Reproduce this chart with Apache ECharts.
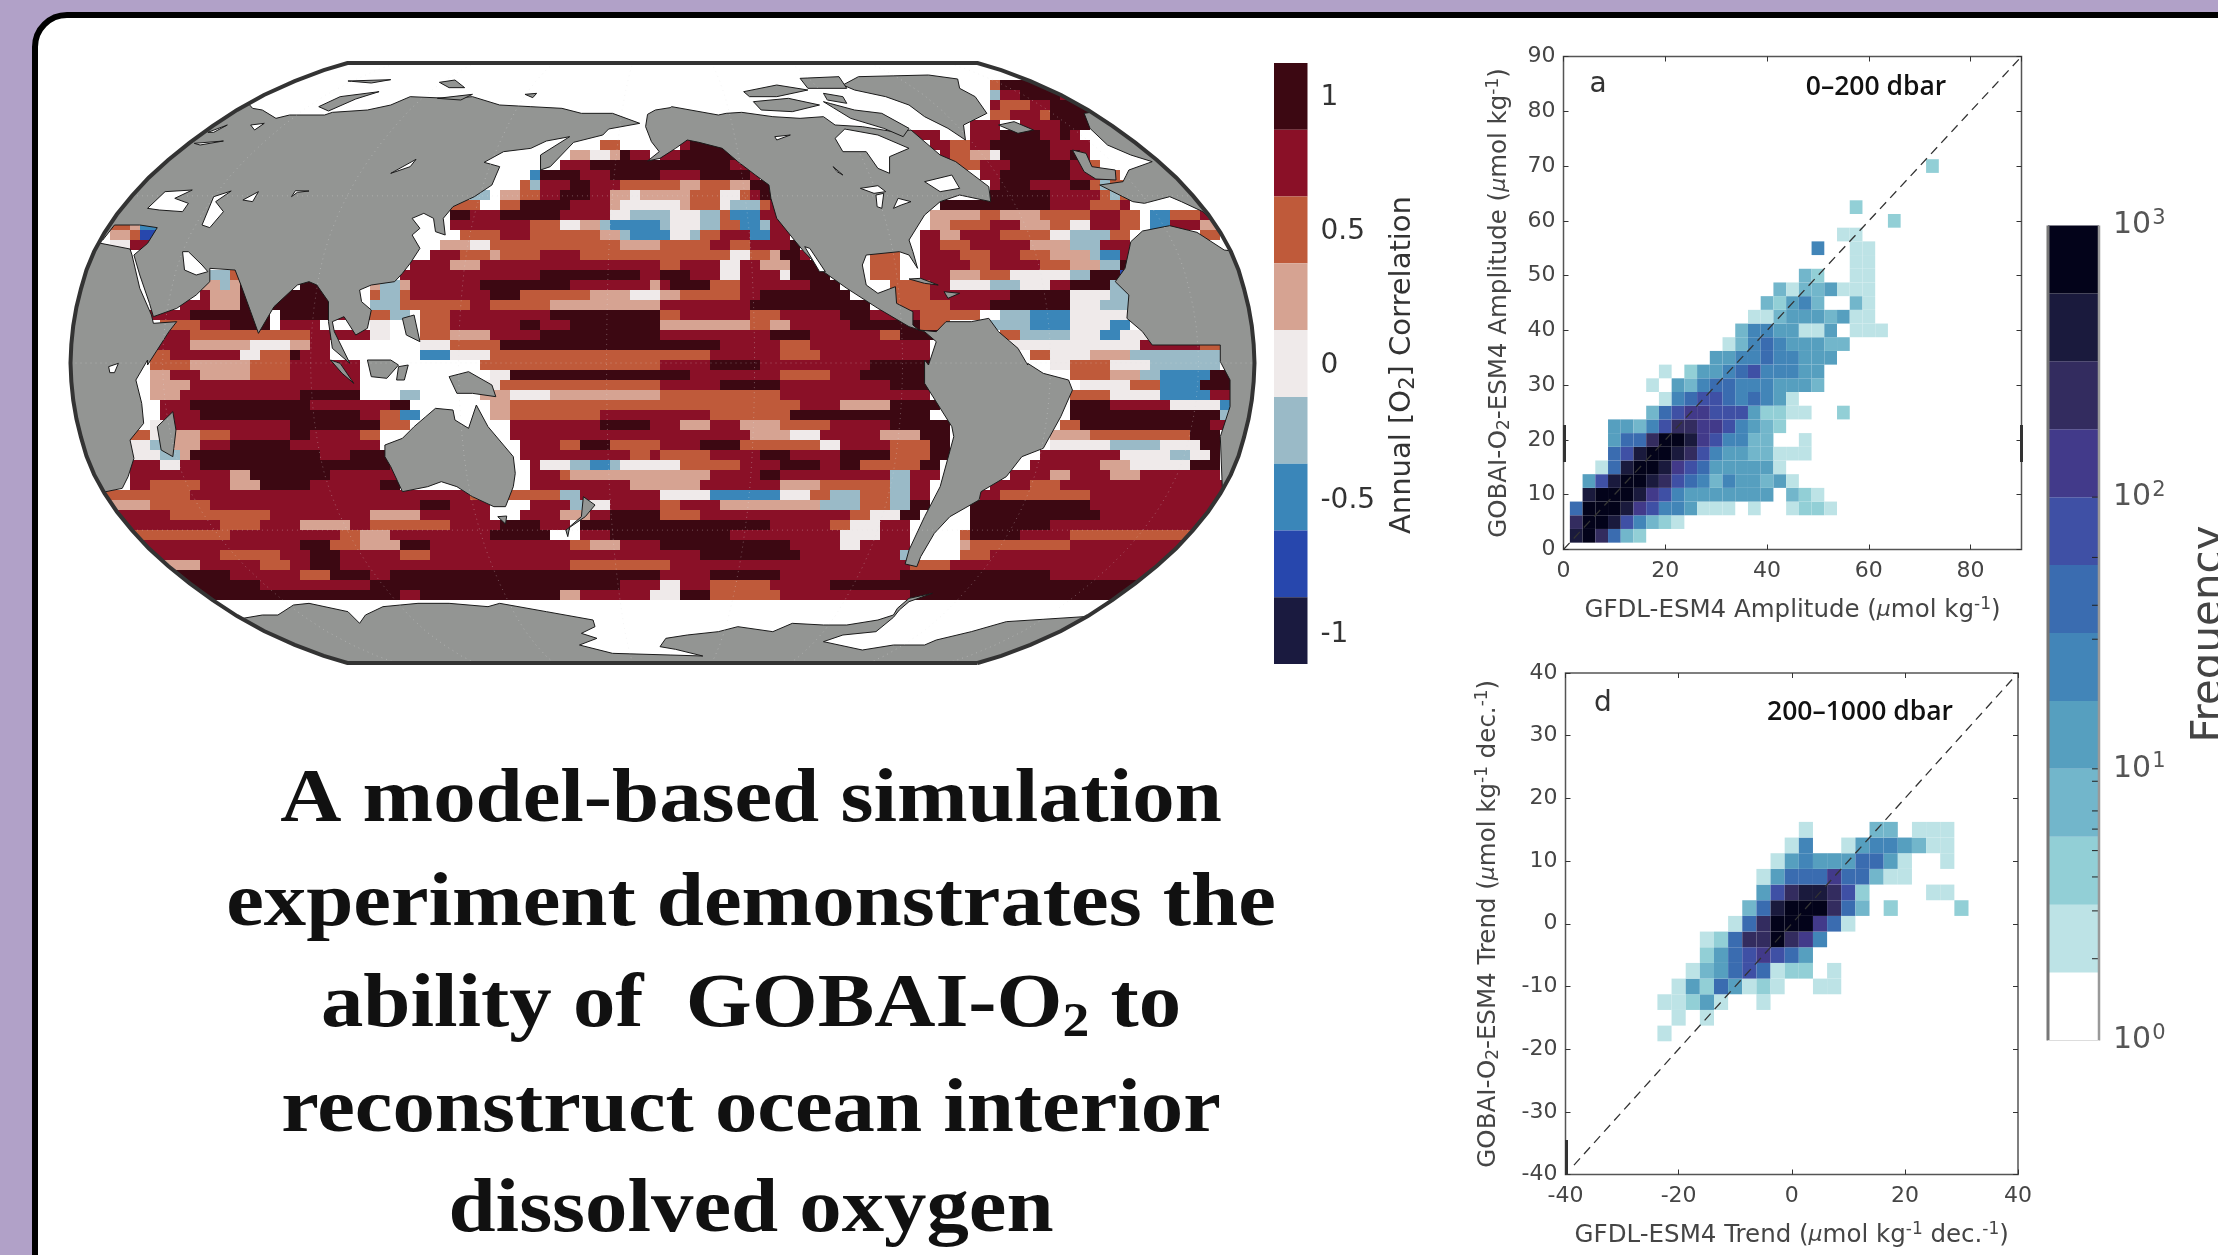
<!DOCTYPE html>
<html>
<head>
<meta charset="utf-8">
<title>GOBAI-O2</title>
<script src="https://cdn.jsdelivr.net/npm/echarts@6/dist/echarts.min.js"></script>
<style>
html, body { margin: 0; padding: 0; background: #b1a1c8; }
#main { width: 2218px; height: 1255px; }
</style>
</head>
<body>
<div id="main"></div>
<script>
// correlation bands, top of the colour bar first
var corrBands = 'DROPWLBNK';
var corrValues = [1, 0.75, 0.5, 0.25, 0, -0.25, -0.5, -0.75, -1];
var corrColors = ['#3c0812', '#8a1027', '#bf5a3a', '#d6a392', '#efeaea', '#9abac7', '#3a86b9', '#2747ad', '#1a1a3f'];
var corrTicks = [1, 0.5, 0, -0.5, -1];

// frequency bands, 1 = white ... 12 = black
var freqColors = ['#ffffff', '#bde3e6', '#92cfd6', '#72b6cb', '#569fbf', '#4285b8', '#3a6cb0', '#3f50a5', '#423a8a', '#332c5f', '#1a1a3d', '#03031a'];
var freqMinorTicks = [100, 60, 40, 30, 10, 9, 7, 6, 5, 4, 3, 2];

// map raster, one string per row, "startColumn + band", later tokens paint to the end of the row
var oceanRows = [
'0. 92O 93D 100.',
'0. 92L 93R 95D 99R 103.',
'0. 92R 93O 96R 98D 104.',
'0. 92O 94R 97O 98D 104.',
'0. 90R 93. 95R 99D 102.',
'0. 84R 87. 90R 93D 97R 99D 100R 101.',
'0. 53O 55. 61R 62D 66. 86R 88O 90R 92D 98R 102.',
'0. 50P 52W 54P 55D 56R 58. 59R 61D 67R 68. 87R 88O 90P 92W 93D 98R 100D 101R 102.',
'0. 49R 52D 66R 68. 88O 91R 94D 100R 102O 103.',
'0. 46B 47D 51R 54D 59R 63D 68R 69. 91R 93D 100R 104O 105.',
'0. 45O 46L 47R 50D 52R 55O 59O 61P 63O 66P 68D 70. 92R 93D 96R 100D 102O 103L 104O 106.',
'0. 40L 42. 43P 45O 47R 49D 52R 54P 56W 57P 59P 62O 65W 67O 68R 69D 71. 92D 98R 102R 103O 104L 105O 107.',
'0. 38O 41. 43O 45D 50R 54P 55W 61P 62O 65W 66L 69O 70R 71. 87D 98R 102O 105R 106.',
'0. 38D 40R 42R 43D 49R 54W 56L 59L 60W 63L 65O 66B 69R 71. 86P 91O 93P 97O 102R 105O 107. 108B 110O 113R 114.',
'0. 4O 6P 7B 9. 38R 41R 46O 49W 51P 53L 54B 59L 60W 63L 65O 67B 69L 70R 72. 86P 88O 92R 95P 98O 100W 102R 105O 107. 108B 110R 113P 115.',
'0. 4P 6O 7N 9. 39O 43R 46O 53P 55L 56B 60W 62L 63O 65R 68B 70R 72. 85R 87P 89R 93O 98W 100L 104O 106. 108B 110. 113O 115.',
'0. 4W 6R 8. 37P 40W 42O 55P 59O 64R 66O 68R 72D 73. 85R 87O 90R 96P 100L 103R 106.',
'0. 36R 39O 42P 43O 47R 51O 59O 63O 66W 68O 70P 71D 73R 74. 80O 83. 85R 89O 92R 95O 98P 102L 103B 105R 106.',
'0. 34R 38P 41R 48R 59O 61R 65W 67R 69P 72D 75. 80O 83. 85R 90O 92R 97O 100P 103L 105D 106.',
'0. 14L 16O 18. 33R 47D 57R 59D 62R 65W 67R 71W 72D 76. 80O 83. 85R 88P 91O 94W 100L 102D 105N 106.',
'0. 13P 15L 16P 17D 19. 23D 26. 30P 31L 33P 34R 41D 50R 58P 59R 60D 64O 67R 72R 74D 77. 82O 86R 88W 92L 95W 98R 100D 104L 106.',
'0. 13R 14P 17D 20R 21D 26. 30O 31L 33O 34R 42D 45O 49O 52P 56W 59P 61O 67R 69D 78. 82O 86R 90R 94D 100W 104L 106.',
'0. 11R 14P 17D 21D 26. 30L 33O 35O 40R 42O 48P 56P 59R 68D 80. 82O 88R 92D 100W 103L 106.',
'0. 8R 12D 20. 21D 26R 30O 32L 34. 35O 38R 45R 48D 59O 61R 68O 71R 77D 80R 85O 91. 93L 96B 100W 106.',
'0. 9O 13R 16D 20. 21R 25. 30W 32. 35O 38R 45D 47R 50D 59P 68O 70P 72R 78D 85O 88. 92L 96B 100W 104B 106.',
'0. 9R 12O 19O 24R 30W 32. 35O 38P 42R 47D 59R 70D 74R 81O 83D 87. 93O 95L 100W 103B 105W 108.',
'0. 8R 12P 18W 22P 24R 26. 35W 38O 43D 59D 65R 71O 74R 86. 94W 107R 113O 115.',
'0. 8O 10R 17W 19O 22D 23R 26. 35B 38W 42O 59O 64R 71O 75R 86. 96O 98W 102P 106L 115.',
'0. 8O 12P 18O 22R 29. 41O 43O 59R 64D 69R 80D 86. 98W 100O 104W 108L 115.',
'0. 8P 10R 13P 18O 22R 29. 42W 44D 59D 62R 71O 76R 79D 86. 100O 104P 107L 109B 114D 116.',
'0. 8P 12R 29. 41W 43O 48O 59R 65D 71R 82D 86. 101W 106O 109B 113D 116.',
'0. 8P 11R 23D 29. 33L 35. 41P 44W 48P 59O 71R 86. 100O 104W 109B 114R 116.',
'0. 9R 12D 24R 32D 34. 42P 44O 59O 73R 77P 82D 87. 100D 104R 110W 115B 116.',
'0. 9R 13D 29R 31O 33B 35. 42P 44O 53R 59R 64O 72D 86. 100D 115L 116.',
'0. 8W 10R 13R 22D 29D 31O 34. 44R 53D 58R 60R 61P 64R 67P 71O 76R 82D 88. 99O 101D 112D 114R 116.',
'0. 6O 8W 10P 13O 16R 22D 24R 29O 31. 44R 53R 59R 68P 72W 75R 81P 85D 88. 98P 102O 112D 115.',
'0. 6W 8L 10P 13R 16D 22R 24R 29R 31. 45R 49O 51D 54O 56O 59R 63D 67O 75W 77R 82O 86D 88. 98W 104L 109W 113D 115.',
'0. 6W 9L 11P 12D 25R 28D 32D 33. 45R 49R 56O 58R 59O 61O 64R 69D 72R 77D 82O 86D 88. 97R 105W 110L 112W 114D 115.',
'0. 6R 9W 11R 13D 32R 33. 46R 47W 50L 52B 54L 55W 59W 61O 67R 71D 75R 77D 79O 85D 87. 96R 103P 106W 112D 115.',
'0. 6R 16P 18D 26R 33. 46R 49O 50P 55P 59P 64R 69D 71R 80R 82L 84R 87. 94R 98P 100R 104P 107R 115.',
'0. 6R 8O 13R 16P 19D 24R 31D 33. 46R 54R 56P 59P 61P 63R 71P 75O 82L 84R 86. 92R 96O 99R 116.',
'0O 12R 24R 34R 40O 45O 49L 51R 59W 64B 71W 74O 76L 79O 82L 84R 86. 91R 93O 102R',
'0P 8O 14R 35D 38R 42. 46R 50L 52W 54R 59O 61R 65P 71P 75L 79O 82L 84D 86. 90D 102R',
'0R 10O 20R 30P 35R 42. 45R 49P 52R 54D 59O 63R 75R 78O 80W 83D 85. 90D 103R',
'0R 15O 19R 23P 28R 30O 38R 43D 47R 50. 51D 59D 70R 76O 78W 81R 84. 90D 98R',
'0O 16R 27O 29P 32R 42D 48. 51R 54D 59D 66R 73R 77W 81R 84. 89O 90D 95R 100O',
'0R 23D 26O 29P 33D 36R 50O 52P 55R 59D 72R 77W 79R 84. 89P 90O 100R',
'0R 15O 21R 24D 27R 33O 36R 59R 63D 73R 83L 84. 89O 92R',
'0P 13R 19O 22R 24D 27R 50O 55O 60R 73R 84O 88R',
'0D 16R 23O 26D 30R 32D 59R 64D 71R 83D 95D 98R',
'0D 19R 30D 55R 59W 61R 64O 70R 76D',
'0D 33R 35D 49P 51R 58W 61D 64O 71R 84D'
];

// panel a, rows upward from y = 2.5, [first column, levels]
var ampRows = [
[0,'bca743'],[0,'accb86432'],[0,'7cccb9866522202002332'],[1,'bcccb98655555550432'],
[1,'58bccba8764655452'],[2,'27bccb987555552'],[3,'78bccba865544222'],[3,'577accb986644002'],
[3,'55468aa9986543'],[6,'4789988853322003'],[7,'26788767652'],[6,'20546776665554'],
[7,'2035567866655'],[11,'5566766555'],[12,'2467655544'],[13,'466552250222'],
[14,'2245554522'],[15,'435640042'],[16,'42445222'],[18,'430022'],
[22,'22'],[19,'60022'],[21,'22'],[25,'3'],[22,'3'],[0,''],[0,''],[28,'3']
];

// panel d, rows upward from y = -17.5, columns from x = -22.5
var trendRows = [
[0,'2'],[1,'202'],[0,'22352002'],[1,'253752320022'],
[2,'24578723302'],[3,'35789875'],[3,'237aaca96'],[5,'27accc972'],
[6,'47bccca740300003'],[7,'58abba83000022'],[7,'25777977422'],[8,'2565557752002'],
[9,'260025665422'],[10,'20000440222']
];

// coastlines
function quad(ox, oy) {
    return function(pts) {
        return pts.map(function(p) {
            var x = ox + p[0] / 2.57, y = oy + p[1] / 3;
            return [Math.min(1260, Math.max(45, x)), Math.min(675, Math.max(45, y))];
        });
    };
}
var q1 = quad(60, 55), q2 = quad(660, 55), q3 = quad(60, 360), q4 = quad(660, 360);

var landShapes = [
// Eurasia
q1([[-60,100],[480,140],[495,160],[520,165],[555,190],[590,180],[680,180],[700,172],[790,165],[850,150],[900,125],[1000,130],[1060,125],[1130,150],[1210,155],[1290,160],[1340,175],[1420,175],[1490,205],[1410,222],[1395,240],[1320,262],[1260,335],[1235,345],[1235,300],[1310,245],[1250,258],[1210,280],[1140,290],[1090,322],[1130,335],[1110,390],[1065,425],[1010,455],[985,490],[990,540],[965,530],[960,490],[935,475],[905,490],[925,520],[905,540],[925,580],[900,625],[880,655],[860,680],[800,690],[770,705],[775,740],[800,765],[790,820],[760,840],[730,785],[700,800],[705,830],[745,925],[700,880],[690,800],[690,740],[660,690],[640,680],[610,690],[550,755],[510,835],[490,770],[465,690],[450,645],[385,640],[385,680],[350,720],[300,760],[240,785],[230,745],[205,660],[190,600],[225,565],[250,518],[205,510],[140,510],[110,555],[-60,520]]),
// Africa, east side
q1([[-60,570],[105,565],[180,582],[185,600],[205,700],[235,780],[240,805],[300,800],[280,830],[225,930]]).concat(q3([[225,0],[195,60],[210,130],[215,190],[180,240],[190,295],[175,350],[160,385],[118,395],[-60,395]])),
// Americas
q1([[1510,178],[1530,165],[1568,158]]).concat(q2([[30,155],[150,180],[170,175],[210,172],[290,185],[360,190],[420,185],[450,210],[520,215],[600,230],[645,225],[720,300],[760,320],[845,395],[850,440],[770,420],[720,440],[680,480],[640,555],[650,590],[662,640],[640,600],[615,590],[530,600],[520,630],[530,690],[560,715],[605,695],[608,745],[650,770],[650,810],[665,825],[710,830],[735,800],[800,800],[845,790],[870,830],[920,880],[945,930]]), q4([[945,10],[985,40],[1050,60],[1060,90],[1030,170],[985,265],[930,290],[890,350],[825,395],[820,420],[745,470],[705,520],[670,590],[660,620],[630,612],[640,570],[680,470],[720,380],[755,230],[750,200],[680,70],[680,0]]), q2([[690,930],[710,860],[680,830],[640,815],[560,760],[480,700],[420,650],[370,590],[345,555],[300,490],[285,430],[280,390],[245,360],[200,320],[160,280],[100,262],[70,255],[40,280],[0,310]]), q1([[1510,318],[1540,290],[1520,260],[1505,215]])),
// Greenland, Iceland, Baffin and the archipelago
q2([[470,90],[510,65],[690,60],[765,72],[770,100],[810,125],[840,175],[780,210],[785,255],[740,220],[680,185],[640,150],[580,125],[500,105]]),
q2([[870,210],[910,200],[960,225],[920,235]]),
q2([[420,140],[500,165],[570,175],[640,220],[625,245],[575,220],[490,190]]),
q2([[215,110],[300,90],[380,105],[300,125],[230,125]]),
q2([[240,140],[330,130],[410,150],[340,170],[260,165]]),
q2([[360,70],[460,65],[480,100],[380,100]]),
q2([[420,115],[470,125],[480,145],[430,135]]),
// Europe, west Africa, Britain
q2([[1090,175],[1105,220],[1150,270],[1210,300],[1265,320],[1205,345],[1190,380],[1130,390],[1215,440],[1245,445],[1310,425],[1340,440],[1395,470],[1440,520],[1600,600],[1600,100]]),
q2([[1240,528],[1310,512],[1380,532],[1450,585],[1600,600],[1600,930]]).concat(q4([[1600,0],[1600,300],[1445,380],[1440,230],[1465,140],[1465,60],[1440,5]]), q2([[1440,870],[1265,870],[1240,830],[1200,790],[1205,720],[1170,680],[1195,640],[1210,560]])),
q2([[1060,285],[1095,295],[1110,335],[1170,345],[1172,375],[1120,372],[1090,350]]),
q2([[640,672],[670,670],[715,690],[680,685]]),
q2([[730,710],[770,715],[740,730]]),
// arctic islands on the Eurasian side
q1([[665,155],[720,125],[820,110],[760,132],[690,168]]),
q1([[740,78],[850,74],[800,84]]),
q1([[975,82],[1015,75],[1040,98],[1000,98]]),
q1([[1195,118],[1225,115],[1215,128]]),
q1([[970,130],[1060,118],[1030,135]]),
// southern land
q3([[835,255],[880,235],[910,200],[940,170],[965,145],[1010,150],[1015,180],[1050,205],[1070,135],[1100,200],[1165,290],[1170,340],[1165,380],[1145,440],[1115,440],[1060,410],[1020,380],[980,365],[945,380],[880,395],[850,320],[835,290]]),
q3([[1000,50],[1050,35],[1110,75],[1120,110],[1060,100],[1020,100]]),
q3([[1125,470],[1148,468],[1145,492]]),
q3([[250,200],[290,155],[298,210],[290,290],[260,270]]),
q3([[1300,510],[1350,470],[1375,435],[1345,410],[1340,470],[1310,500],[1305,530]]),
q3([[695,0],[720,10],[755,70],[725,40]]),
q3([[790,0],[850,0],[870,15],[840,55],[800,50]]),
q3([[870,20],[895,15],[885,60],[865,60]]),
q1([[880,790],[910,780],[925,860],[890,840]]),
// Antarctica
q3([[300,1100],[470,775],[520,765],[560,765],[600,735],[640,730],[740,755],[770,790],[785,765],[830,740],[920,730],[1000,730],[1100,740],[1130,730],[1250,755],[1370,780],[1375,800],[1340,820],[1380,835],[1335,855],[1420,880],[1568,885]]).concat(q4([[110,888],[40,868],[0,860],[15,835],[70,825],[150,815],[200,800],[290,815],[340,790],[420,795],[480,795],[560,780],[600,765],[610,745],[640,715],[700,700],[640,725],[615,750],[600,772],[555,815],[470,825],[420,845],[520,870],[600,855],[680,855],[710,840],[800,815],[890,785],[1090,770],[1600,780],[1200,1100]]))
];

var lakeShapes = [
q1([[225,460],[270,410],[340,405],[295,430],[330,445],[315,470],[255,465]]),
q1([[365,510],[395,425],[440,408],[400,440],[420,470],[385,518]]),
q1([[470,435],[510,410],[495,440]]),
q1([[595,425],[605,407],[640,408],[610,412]]),
q1([[850,355],[915,313],[900,335]]),
q1([[315,590],[330,590],[365,630],[380,650],[350,660],[320,645]]),
q1([[490,210],[525,205],[500,225]]),
q1([[345,265],[420,258],[360,270]]),
q1([[380,232],[430,210],[395,232]]),
q2([[450,250],[475,222],[560,240],[640,280],[590,305],[590,355],[560,340],[530,290],[470,290]]),
q2([[515,400],[560,392],[580,410],[550,415]]),
q2([[555,420],[575,415],[570,460],[558,455]]),
q2([[600,460],[612,430],[645,440],[620,450]]),
q2([[445,335],[470,360],[455,350]]),
q2([[295,245],[335,240],[300,255]]),
q2([[680,380],[750,360],[770,400],[720,410]]),
q2([[372,575],[385,580],[425,650],[410,650]]),
q3([[125,20],[150,10],[140,38],[128,38]])
];

// Robinson table, latitudes 0 to 90 in steps of 5
var robinsonX = [1, 0.9986, 0.9954, 0.99, 0.9822, 0.973, 0.96, 0.9427, 0.9216, 0.8962, 0.8679, 0.835, 0.7986, 0.7597, 0.7186, 0.6732, 0.6213, 0.5722, 0.5322];
var robinsonY = [0, 0.062, 0.124, 0.186, 0.248, 0.31, 0.372, 0.434, 0.4958, 0.5571, 0.6176, 0.6769, 0.7346, 0.7903, 0.8435, 0.8936, 0.9394, 0.9761, 1];

var mapCx = 662.5, mapCy = 363, mapRx = 592, mapRy = 300;

function project(lon, lat) {
    var a = Math.abs(lat) / 5;
    var i = Math.min(Math.floor(a), 17);
    var t = a - i;
    var px = robinsonX[i] + (robinsonX[i + 1] - robinsonX[i]) * t;
    var py = robinsonY[i] + (robinsonY[i + 1] - robinsonY[i]) * t;
    return [mapCx + mapRx * px * lon / 180, mapCy - (lat < 0 ? -1 : 1) * mapRy * py];
}

var outline = [];
for (var la = -90; la <= 90; la += 5) outline.push(project(180, la));
for (la = 90; la >= -90; la -= 5) outline.push(project(-180, la));
outline.push(outline[0]);

var graticule = [];
[-45, 0, 45].forEach(function(lat) {
    var line = [];
    for (var lo = -180; lo <= 180; lo += 10) line.push(project(lo, lat));
    graticule.push(line);
});
[-152, -107, -62, -17, 28, 73, 118, 163].forEach(function(lon) {
    var line = [];
    for (var la2 = -90; la2 <= 90; la2 += 5) line.push(project(lon, la2));
    graticule.push(line);
});

// build the cells
var oceanCells = [];
oceanRows.forEach(function(text, row) {
    var cols = [];
    text.split(' ').forEach(function(tok) {
        var start = parseInt(tok, 10);
        var ch = tok.charAt(tok.length - 1);
        for (var c = start; c < 118; c++) cols[c] = ch;
    });
    cols.forEach(function(ch, c) {
        var b = corrBands.indexOf(ch);
        if (b >= 0) oceanCells.push([c, row, corrValues[b], b]);
    });
});

function histCells(rows, x0, y0, bin) {
    var out = [];
    rows.forEach(function(r, ri) {
        r[1].split('').forEach(function(ch, i) {
            var lv = parseInt(ch, 16);
            if (lv > 0) out.push([x0 + (r[0] + i) * bin, y0 + ri * bin, lv]);
        });
    });
    return out;
}
var ampCells = histCells(ampRows, 2.5, 2.5, 2.5);
var trendCells = histCells(trendRows, -22.5, -17.5, 2.5);

var myChart = echarts.init(document.getElementById('main'));

function polyRender(list, style) {
    return function(params, api) {
        var pts = list[api.value(0)].map(function(p) { return api.coord(p); });
        return { type: 'polygon', shape: { points: pts }, style: style };
    };
}

function histRender(params, api) {
    var a = api.coord([api.value(0) - 1.25, api.value(1) + 1.25]);
    var b = api.coord([api.value(0) + 1.25, api.value(1) - 1.25]);
    return {
        type: 'rect',
        shape: { x: a[0], y: a[1], width: b[0] - a[0], height: b[1] - a[1] },
        style: { fill: freqColors[api.value(2) - 1] }
    };
}

var tickFont = { fontFamily: 'DejaVu Sans', fontSize: 22, color: '#454545' };
var nameStyle = {
    fontFamily: 'DejaVu Sans', fontSize: 24.5, color: '#454545',
    rich: {
        e: { fontFamily: 'DejaVu Sans', fontSize: 17, color: '#454545', padding: [0, 0, 11, 0] },
        u: { fontFamily: 'DejaVu Sans', fontSize: 17, color: '#454545', padding: [11, 0, 0, 0] },
        m: { fontFamily: 'DejaVu Sans', fontSize: 22, fontStyle: 'italic', color: '#454545' },
        t: { fontFamily: 'DejaVu Sans', fontSize: 24.5, color: '#454545' }
    }
};

function panelAxes(gi, min, max, xStep, xName, yName, nameGapX, nameGapY) {
    var tick = { show: true, inside: true, length: 5, lineStyle: { color: '#333', width: 1 } };
    var line = { show: false, onZero: false };
    return {
        x: [
            { gridIndex: gi, type: 'value', min: min, max: max, interval: xStep, position: 'bottom',
              axisLine: line, splitLine: { show: false }, axisTick: tick,
              axisLabel: Object.assign({ margin: 11, showMaxLabel: max === 40 }, tickFont),
              name: xName, nameLocation: 'middle', nameGap: nameGapX, nameTextStyle: nameStyle },
            { gridIndex: gi, type: 'value', min: min, max: max, interval: xStep, position: 'top',
              axisLine: line, splitLine: { show: false }, axisTick: tick, axisLabel: { show: false } }
        ],
        y: [
            { gridIndex: gi, type: 'value', min: min, max: max, interval: 10, position: 'left',
              axisLine: line, splitLine: { show: false }, axisTick: tick,
              axisLabel: Object.assign({ margin: 8 }, tickFont),
              name: yName, nameLocation: 'middle', nameRotate: 90, nameGap: nameGapY, nameTextStyle: nameStyle },
            { gridIndex: gi, type: 'value', min: min, max: max, interval: 10, position: 'right',
              axisLine: line, splitLine: { show: false }, axisTick: tick, axisLabel: { show: false } }
        ]
    };
}

var axA = panelAxes(1, 0, 90, 20,
    '{t|GFDL-ESM4 Amplitude (}{m|μ}{t|mol kg}{e|-1}{t|)}',
    '{t|GOBAI-O}{u|2}{t|-ESM4 Amplitude (}{m|μ}{t|mol kg}{e|-1}{t|)}', 47, 50);
var axD = panelAxes(2, -40, 40, 20,
    '{t|GFDL-ESM4 Trend (}{m|μ}{t|mol kg}{e|-1}{t| dec.}{e|-1}{t|)}',
    '{t|GOBAI-O}{u|2}{t|-ESM4 Trend (}{m|μ}{t|mol kg}{e|-1}{t| dec.}{e|-1}{t|)}', 47, 63);

function titleLines() {
    var font = 'bold 76px "Liberation Serif"';
    var lines = [
        ['A model-based simulation', 801],
        ['experiment demonstrates the', 905],
        ['{a|ability of  GOBAI-O}{s|2}{a| to}', 1006],
        ['reconstruct ocean interior', 1111],
        ['dissolved oxygen', 1211]
    ];
    return lines.map(function(l) {
        return { type: 'text', z: 50, x: 751, y: l[1], scaleX: 1.115, style: {
            text: l[0], font: font, fill: '#111', align: 'center', verticalAlign: 'middle',
            rich: {
                a: { font: font, fill: '#111' },
                s: { font: 'bold 48px "Liberation Serif"', fill: '#111', padding: [36, 0, 0, 0] }
            }
        } };
    });
}

var hidden = { show: false };
var option = {
    animation: false,
    backgroundColor: '#b1a1c8',
    grid: [
        { left: 70, top: 63, width: 1185, height: 600 },
        { left: 1563.5, top: 56.5, width: 458, height: 493, show: true, borderColor: '#555', borderWidth: 1.5, backgroundColor: '#fff' },
        { left: 1565.5, top: 673, width: 452.5, height: 501.5, show: true, borderColor: '#555', borderWidth: 1.5, backgroundColor: '#fff' },
        { left: 1274, top: 63, width: 33.5, height: 601 },
        { left: 2048, top: 225.5, width: 51, height: 815 }
    ],
    xAxis: [
        { gridIndex: 0, type: 'value', min: 70, max: 1255, show: false }
    ].concat(axA.x, axD.x, [
        { gridIndex: 3, type: 'value', min: 0, max: 1, show: false },
        { gridIndex: 4, type: 'value', min: 0, max: 1, show: false }
    ]),
    yAxis: [
        { gridIndex: 0, type: 'value', min: 63, max: 663, inverse: true, show: false }
    ].concat(axA.y, axD.y, [
        { gridIndex: 3, type: 'value', min: -1.11, max: 1.13, position: 'right',
          axisLine: hidden, axisTick: hidden, splitLine: hidden,
          axisLabel: { customValues: corrTicks, margin: 13, fontFamily: 'DejaVu Sans', fontSize: 28, color: '#333' } },
        { gridIndex: 4, type: 'value', min: 0, max: 3, interval: 1, position: 'right',
          axisLine: hidden, axisTick: hidden, splitLine: hidden,
          axisLabel: { margin: 14, color: '#555',
              formatter: function(v) { return '{b|10}{e|' + v + '}'; },
              rich: { b: { fontFamily: 'DejaVu Sans', fontSize: 30, color: '#555' },
                      e: { fontFamily: 'DejaVu Sans', fontSize: 21, color: '#555', padding: [0, 0, 14, 1] } } } }
    ]),
    graphic: [
        { type: 'rect', z: -10, shape: { x: 35, y: 15, width: 2600, height: 2000, r: 32 },
          style: { fill: '#fff', stroke: '#000', lineWidth: 6 } },
        { type: 'text', z: 50, x: 1598, y: 85, style: { text: 'a', fill: '#333', font: '28px "DejaVu Sans"', align: 'center', verticalAlign: 'middle' } },
        { type: 'text', z: 50, x: 1876, y: 87, style: { text: '0–200 dbar', fill: '#111', font: '600 26.5px "Open Sans"', align: 'center', verticalAlign: 'middle' } },
        { type: 'text', z: 50, x: 1603, y: 704, style: { text: 'd', fill: '#333', font: '28px "DejaVu Sans"', align: 'center', verticalAlign: 'middle' } },
        { type: 'text', z: 50, x: 1860, y: 712, style: { text: '200–1000 dbar', fill: '#111', font: '600 26.5px "Open Sans"', align: 'center', verticalAlign: 'middle' } },
        { type: 'text', z: 50, x: 1402, y: 365, rotation: Math.PI / 2, style: { text: '{t|Annual [O}{u|2}{t|] Correlation}', fill: '#333', font: '29px "DejaVu Sans"', align: 'center', verticalAlign: 'middle',
            rich: { t: { font: '29px "DejaVu Sans"', fill: '#333' }, u: { font: '21px "DejaVu Sans"', fill: '#333', padding: [14, 0, 0, 0] } } } },
        { type: 'text', z: 50, x: 2210, y: 634, rotation: Math.PI / 2, style: { text: 'Frequency', fill: '#444', font: '42px "DejaVu Sans"', align: 'center', verticalAlign: 'middle' } },
        { type: 'rect', z: 50, shape: { x: 1563, y: 425, width: 3, height: 37 }, style: { fill: '#333' } },
        { type: 'rect', z: 50, shape: { x: 2020, y: 425, width: 3, height: 37 }, style: { fill: '#333' } },
        { type: 'rect', z: 50, shape: { x: 1565, y: 1140, width: 3, height: 35 }, style: { fill: '#333' } }
    ].concat(titleLines()),
    series: [
        { type: 'custom', xAxisIndex: 0, yAxisIndex: 0, clip: false, z: 3, silent: true,
          data: oceanCells,
          renderItem: function(params, api) {
              var a = api.coord([70 + api.value(0) * 10, 80 + api.value(1) * 10]);
              var b = api.coord([80 + api.value(0) * 10, 90 + api.value(1) * 10]);
              return { type: 'rect', shape: { x: a[0], y: a[1], width: b[0] - a[0], height: b[1] - a[1] },
                       style: { fill: corrColors[api.value(3)] } };
          } },
        { type: 'custom', xAxisIndex: 0, yAxisIndex: 0, clip: false, z: 4, silent: true,
          data: landShapes.map(function(_, i) { return [i]; }),
          renderItem: polyRender(landShapes, { fill: '#939593', stroke: '#1a1a1a', lineWidth: 1 }) },
        { type: 'custom', xAxisIndex: 0, yAxisIndex: 0, clip: false, z: 5, silent: true,
          data: graticule.map(function(_, i) { return [i]; }),
          renderItem: function(params, api) {
              var pts = graticule[api.value(0)].map(function(p) { return api.coord(p); });
              return { type: 'polyline', shape: { points: pts },
                       style: { fill: null, stroke: 'rgba(225,225,225,0.35)', lineWidth: 1, lineDash: [1, 4] } };
          } },
        { type: 'custom', xAxisIndex: 0, yAxisIndex: 0, clip: false, z: 6, silent: true,
          data: lakeShapes.map(function(_, i) { return [i]; }),
          renderItem: polyRender(lakeShapes, { fill: '#fff', stroke: '#1a1a1a', lineWidth: 1 }) },
        // white ring outside the projection, then its outline
        { type: 'custom', xAxisIndex: 0, yAxisIndex: 0, clip: false, z: 7, silent: true,
          data: [[0]],
          renderItem: function(params, api) {
              var ring = [[40, 40], [1262, 40], [1262, 680], [40, 680], [40, 40]].concat(outline);
              return { type: 'polygon', shape: { points: ring.map(function(p) { return api.coord(p); }) }, style: { fill: '#fff' } };
          } },
        { type: 'custom', xAxisIndex: 0, yAxisIndex: 0, clip: false, z: 8, silent: true,
          data: [[0]],
          renderItem: function(params, api) {
              return { type: 'polyline', shape: { points: outline.map(function(p) { return api.coord(p); }) },
                       style: { fill: null, stroke: '#333', lineWidth: 4 } };
          } },

        { type: 'custom', xAxisIndex: 1, yAxisIndex: 1, data: ampCells, renderItem: histRender, z: 3, silent: true },
        { type: 'line', xAxisIndex: 1, yAxisIndex: 1, data: [[0, 0], [90, 90]], symbol: 'none', z: 4, silent: true,
          lineStyle: { color: '#333', width: 1.3, type: [9, 6] } },
        { type: 'custom', xAxisIndex: 3, yAxisIndex: 3, data: trendCells, renderItem: histRender, z: 3, silent: true },
        { type: 'line', xAxisIndex: 3, yAxisIndex: 3, data: [[-38.5, -38.5], [39, 39]], symbol: 'none', z: 4, silent: true,
          lineStyle: { color: '#333', width: 1.3, type: [9, 6] } },

        // correlation colour bar
        { type: 'custom', xAxisIndex: 5, yAxisIndex: 5, z: 3, silent: true,
          data: corrValues.map(function(v, i) { return [i]; }),
          renderItem: function(params, api) {
              var i = api.value(0), step = (1.13 + 1.11) / 9;
              var a = api.coord([0, 1.13 - i * step]);
              var b = api.coord([1, 1.13 - (i + 1) * step]);
              return { type: 'rect', shape: { x: a[0], y: a[1], width: b[0] - a[0], height: b[1] - a[1] },
                       style: { fill: corrColors[i] } };
          } },
        // frequency colour bar, darkest band on top
        { type: 'custom', xAxisIndex: 6, yAxisIndex: 6, z: 3, silent: true,
          data: freqColors.map(function(c, i) { return [i]; }),
          renderItem: function(params, api) {
              var i = api.value(0);
              var a = api.coord([0, (i + 1) * 0.25]);
              var b = api.coord([1, i * 0.25]);
              return { type: 'rect', shape: { x: a[0], y: a[1], width: b[0] - a[0], height: b[1] - a[1] },
                       style: { fill: freqColors[i] } };
          } },
        { type: 'custom', xAxisIndex: 6, yAxisIndex: 6, z: 4, silent: true,
          data: freqMinorTicks.map(function(v) { return [Math.log10(v)]; }),
          renderItem: function(params, api) {
              var a = api.coord([1, api.value(0)]);
              return { type: 'line', shape: { x1: a[0] - 7, y1: a[1], x2: a[0], y2: a[1] },
                       style: { stroke: '#222', lineWidth: 1 } };
          } },
        { type: 'custom', xAxisIndex: 6, yAxisIndex: 6, z: 5, silent: true,
          data: [[0]],
          renderItem: function(params, api) {
              var a = api.coord([0, 3]), b = api.coord([1, 0]);
              return { type: 'group', children: [
                  { type: 'line', shape: { x1: a[0], y1: a[1], x2: a[0], y2: b[1] }, style: { stroke: '#777', lineWidth: 3 } },
                  { type: 'line', shape: { x1: b[0], y1: a[1], x2: b[0], y2: b[1] }, style: { stroke: '#999', lineWidth: 2.5 } },
                  { type: 'line', shape: { x1: a[0], y1: b[1], x2: b[0], y2: b[1] }, style: { stroke: '#ddd', lineWidth: 1 } }
              ] };
          } }
    ]
};

myChart.setOption(option);
</script>
</body>
</html>
